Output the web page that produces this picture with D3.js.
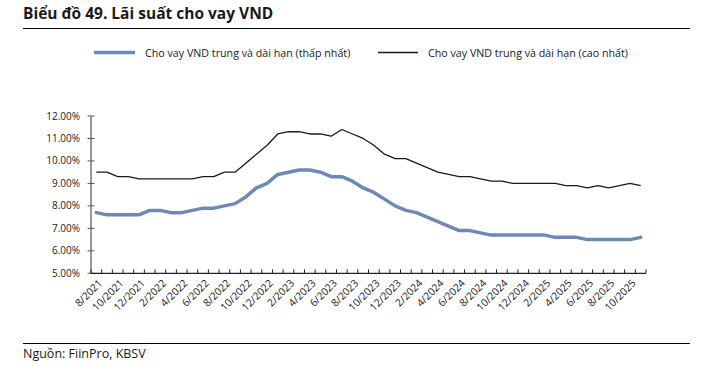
<!DOCTYPE html>
<html>
<head>
<meta charset="utf-8">
<title>Biểu đồ 49. Lãi suất cho vay VND</title>
<script src="https://d3js.org/d3.v7.min.js"></script>
<style>
body { margin: 0; background: #fff; font-family: 'Open Sans', 'Noto Sans', Arial, sans-serif; }
svg text { fill: #1a1a1a; }
</style>
</head>
<body>
<svg id="chart"></svg>
<script>
// Months (category axis)
var months = [
    '8/2021', '9/2021', '10/2021', '11/2021', '12/2021',
    '1/2022', '2/2022', '3/2022', '4/2022', '5/2022', '6/2022', '7/2022', '8/2022', '9/2022', '10/2022', '11/2022', '12/2022',
    '1/2023', '2/2023', '3/2023', '4/2023', '5/2023', '6/2023', '7/2023', '8/2023', '9/2023', '10/2023', '11/2023', '12/2023',
    '1/2024', '2/2024', '3/2024', '4/2024', '5/2024', '6/2024', '7/2024', '8/2024', '9/2024', '10/2024', '11/2024', '12/2024',
    '1/2025', '2/2025', '3/2025', '4/2025', '5/2025', '6/2025', '7/2025', '8/2025', '9/2025', '10/2025', '11/2025'
];

// Lowest medium/long term VND lending rate (%)
var lowRates = [
    7.7, 7.6, 7.6, 7.6, 7.6,
    7.8, 7.8, 7.7, 7.7, 7.8, 7.9, 7.9, 8.0, 8.1, 8.4, 8.8, 9.0,
    9.4, 9.5, 9.6, 9.6, 9.5, 9.3, 9.3, 9.1, 8.8, 8.6, 8.3, 8.0,
    7.8, 7.7, 7.5, 7.3, 7.1, 6.9, 6.9, 6.8, 6.7, 6.7, 6.7, 6.7,
    6.7, 6.7, 6.6, 6.6, 6.6, 6.5, 6.5, 6.5, 6.5, 6.5, 6.6
];

// Highest medium/long term VND lending rate (%)
var highRates = [
    9.5, 9.5, 9.3, 9.3, 9.2,
    9.2, 9.2, 9.2, 9.2, 9.2, 9.3, 9.3, 9.5, 9.5, 9.9, 10.3, 10.7,
    11.2, 11.3, 11.3, 11.2, 11.2, 11.1, 11.4, 11.2, 11.0, 10.7, 10.3, 10.1,
    10.1, 9.9, 9.7, 9.5, 9.4, 9.3, 9.3, 9.2, 9.1, 9.1, 9.0, 9.0,
    9.0, 9.0, 9.0, 8.9, 8.9, 8.8, 8.9, 8.8, 8.9, 9.0, 8.9
];

var yTicks = [5, 6, 7, 8, 9, 10, 11, 12];
var seriesNames = ['Cho vay VND trung và dài hạn (thấp nhất)', 'Cho vay VND trung và dài hạn (cao nhất)'];
var titleText = 'Biểu đồ 49. Lãi suất cho vay VND';
var sourceText = 'Nguồn: FiinPro, KBSV';

var vWidth = 704, vHeight = 378;
var plot = { left: 91, right: 646, top: 116, bottom: 273.3 };
var blue = '#6c8ab3', black = '#1a1a1a';

var svg = d3.select('#chart').attr('width', vWidth).attr('height', vHeight);

// Title and rules
svg.append('text').attr('x', 23).attr('y', 19)
    .style('font-size', '15.5px').style('font-weight', 'bold')
    .text(titleText);
svg.append('line').attr('x1', 23).attr('x2', 690).attr('y1', 28.5).attr('y2', 28.5)
    .attr('stroke', '#000').attr('stroke-width', 1);
svg.append('line').attr('x1', 23).attr('x2', 690).attr('y1', 343.5).attr('y2', 343.5)
    .attr('stroke', '#000').attr('stroke-width', 1);
svg.append('text').attr('x', 23).attr('y', 358)
    .style('font-size', '12.5px')
    .text(sourceText);

// Legend
var legend = [
    { x1: 94, x2: 135, tx: 145, color: blue, w: 3.5, name: seriesNames[0] },
    { x1: 378, x2: 418, tx: 428, color: black, w: 1.3, name: seriesNames[1] }
];
legend.forEach(function (d) {
    svg.append('line').attr('x1', d.x1).attr('x2', d.x2).attr('y1', 52.5).attr('y2', 52.5)
        .attr('stroke', d.color).attr('stroke-width', d.w);
    svg.append('text').attr('x', d.tx).attr('y', 56.5)
        .style('font-size', '10.7px').text(d.name);
});

// Scales
var x = d3.scaleBand().domain(months).range([plot.left, plot.right]);
var y = d3.scaleLinear().domain([5, 12]).range([plot.bottom, plot.top]);
var cx = function (m) { return x(m) + x.bandwidth() / 2; };

// Y axis
var yAxis = svg.append('g');
yAxis.append('line').attr('x1', plot.left).attr('x2', plot.left)
    .attr('y1', y(12)).attr('y2', plot.bottom).attr('stroke', '#555').attr('stroke-width', 1.2);
yTicks.forEach(function (t) {
    yAxis.append('line').attr('x1', plot.left - 3.5).attr('x2', plot.left + 3.5)
        .attr('y1', y(t)).attr('y2', y(t)).attr('stroke', '#555').attr('stroke-width', 1);
    yAxis.append('text').attr('x', 80).attr('y', y(t) + 3.5)
        .attr('text-anchor', 'end').style('font-size', '10px')
        .text(d3.format('.2f')(t) + '%');
});

// X axis
var xAxis = svg.append('g');
xAxis.append('line').attr('x1', plot.left).attr('x2', plot.right)
    .attr('y1', plot.bottom).attr('y2', plot.bottom).attr('stroke', '#222').attr('stroke-width', 1.2);
months.forEach(function (m, i) {
    xAxis.append('line').attr('x1', x(m) + x.bandwidth()).attr('x2', x(m) + x.bandwidth())
        .attr('y1', plot.bottom - 4).attr('y2', plot.bottom).attr('stroke', '#222').attr('stroke-width', 1);
    if (i % 2 === 0) {
        xAxis.append('text')
            .attr('transform', 'translate(' + (cx(m) + 4) + ',' + (plot.bottom + 8) + ')rotate(-45)')
            .attr('text-anchor', 'end').attr('dy', '0.35em')
            .style('font-size', '10.3px').text(m);
    }
});
xAxis.append('line').attr('x1', plot.left).attr('x2', plot.left)
    .attr('y1', plot.bottom - 4).attr('y2', plot.bottom).attr('stroke', '#222');

// Lines
var line = d3.line()
    .x(function (d, i) { return cx(months[i]); })
    .y(function (d) { return y(d); });

svg.append('path').datum(lowRates).attr('d', line)
    .attr('fill', 'none').attr('stroke', blue).attr('stroke-width', 3.5)
    .attr('stroke-linejoin', 'round').attr('stroke-linecap', 'round');
svg.append('path').datum(highRates).attr('d', line)
    .attr('fill', 'none').attr('stroke', black).attr('stroke-width', 1.3)
    .attr('stroke-linejoin', 'round');
</script>
</body>
</html>
